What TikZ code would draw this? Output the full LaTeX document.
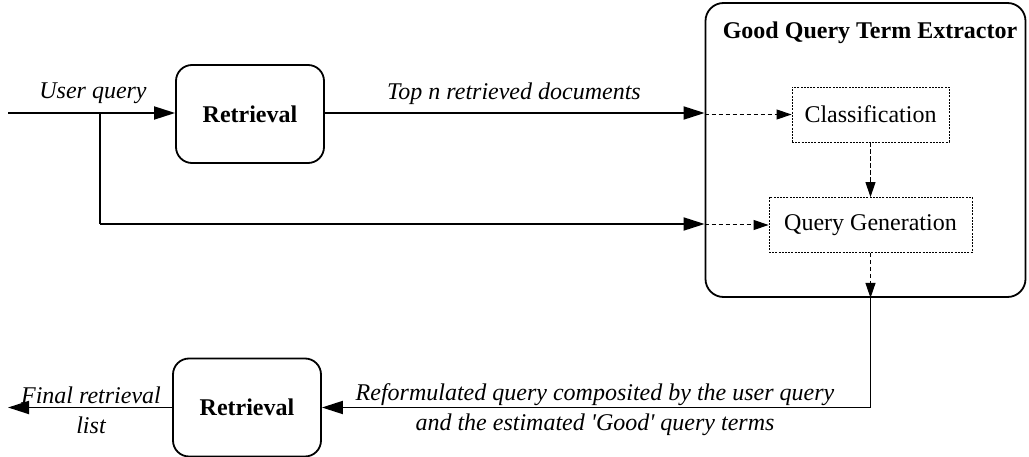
\documentclass[tikz,border=0pt]{standalone}
\usepackage{fontspec}
\setmainfont{Liberation Serif}
\usetikzlibrary{arrows.meta,positioning,calc}
\tikzset{
  base/.style={font=\fontsize{24}{30}\selectfont},
  stage/.style={base, draw, line width=1.8pt, rounded corners=16pt,
    minimum width=148pt, minimum height=98pt, font=\fontsize{24}{30}\selectfont\bfseries},
  module/.style={base, draw, line width=0.9pt, dash pattern=on 2pt off 1.2pt,
    minimum height=55pt, inner sep=0pt},
  flow/.style={line width=1.8pt, -{Triangle[length=21pt,width=13pt]}},
  inner/.style={line width=1pt, dash pattern=on 4.5pt off 2.5pt,
    -{Triangle[length=15pt,width=10pt]}},
  tag/.style={base, font=\fontsize{24}{30}\selectfont\itshape, align=center}
}
\begin{document}
\begin{tikzpicture}[x=1pt,y=-1pt]
\useasboundingbox (0,0) rectangle (1029,457);

% retrieval stages
\node[stage] (ret1) at (250,114) {Retrieval};
\node[stage] (ret2) at (247,407.5) {Retrieval};

% extractor container and its modules
\node[draw, line width=1.8pt, rounded corners=18pt, minimum width=320pt,
      minimum height=294pt, inner sep=0pt] (ext) at (865.5,150) {};
\node[base, font=\fontsize{24}{30}\selectfont\bfseries] (title) at (870,33) {Good Query Term Extractor};
\node[module, minimum width=157pt] (cls) at (870.5,114.5) {Classification};
\node[module, minimum width=203pt] (qg) at (870.5,225) {Query Generation};

% free ends
\coordinate (in) at (8,113);
\coordinate (branch) at (100,113);
\coordinate (out) at (8,407.5);

% input query
\draw[flow] (in) -- (ret1.west |- in);
\node[tag] (lbluq) at (93,93) {User query};
\draw[line width=1.8pt] (branch) |- (100,224) coordinate (lowturn);
\draw[flow] (lowturn) -- (lowturn -| ext.west);

% retrieved documents
\draw[flow] (ret1.east |- in) -- (ext.west |- in);
\node[tag] (lbltop) at (514,94) {Top n retrieved documents};

% inside the extractor
\draw[inner] (ext.west |- cls) -- (cls.west);
\draw[inner] (ext.west |- qg) -- (qg.west);
\draw[inner] (cls.south) -- (qg.north);
\draw[inner] (qg.south) -- (qg.south |- ext.south);

% reformulated query back to retrieval
\draw[flow] (qg.south |- ext.south) |- (ret2.east);
\node[tag] (lblref) at (595,410) {Reformulated query composited by the user query\\and the estimated \textquotesingle Good\textquotesingle{} query terms};

% final output
\draw[flow] (ret2.west) -- (out);
\node[tag] (lblfin) at (91,410) {Final retrieval\\list};
\end{tikzpicture}
\end{document}
